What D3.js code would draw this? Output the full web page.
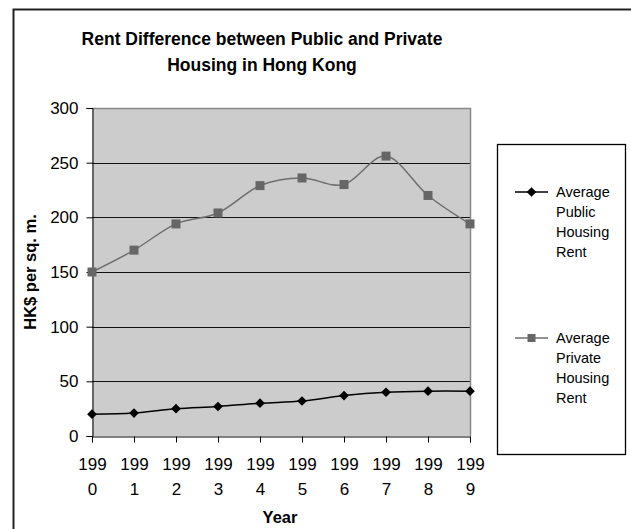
<!DOCTYPE html>
<html><head><meta charset="utf-8">
<script src="https://cdn.jsdelivr.net/npm/d3@7"></script>
<style>body{margin:0;background:#fff}svg{display:block}</style>
</head><body>
<svg id="c" width="631" height="529"></svg>
<script>
const years = ["1990","1991","1992","1993","1994","1995","1996","1997","1998","1999"];
const publicRent = [20, 21, 25, 27, 30, 32, 37, 40, 41, 41];
const privateRent = [150, 170, 194, 204, 229, 236, 230, 256, 220, 194];
const yTicks = [0, 50, 100, 150, 200, 250, 300];
const seriesNames = ["Average Public Housing Rent", "Average Private Housing Rent"];

const svg = d3.select("#c");
const font = "Arial, 'Liberation Sans', sans-serif";

// outer chart border (only top & left visible)
svg.append("path").attr("d","M13.5,529 L13.5,9.5 L631,9.5").attr("fill","none").attr("stroke","#222").attr("stroke-width",2);

const L=92, R=470, T=108, B=436;
const x = d3.scalePoint().domain(years).range([L,R]);
const y = d3.scaleLinear().domain([0,300]).range([B,T]);

// plot area
svg.append("rect").attr("x",L).attr("y",T).attr("width",R-L).attr("height",B-T).attr("fill","#cccccc");
// gridlines
svg.append("g").selectAll("line").data(yTicks.filter(d=>d>0&&d<300)).join("line")
  .attr("x1",L).attr("x2",R).attr("y1",d=>Math.round(y(d))+0.5).attr("y2",d=>Math.round(y(d))+0.5)
  .attr("stroke","#111").attr("stroke-width",1);
// plot border top/right gray
svg.append("path").attr("d",`M${L},${T+0.5} L${R+0.5},${T+0.5} L${R+0.5},${B}`).attr("fill","none").attr("stroke","#888").attr("stroke-width",1.5);

// axes
const yAxis = d3.axisLeft(y).tickValues(yTicks).tickSize(6).tickPadding(8);
const gy = svg.append("g").attr("transform",`translate(${L+0.5},0)`).call(yAxis);
gy.select(".domain").attr("stroke","#000");
gy.selectAll(".tick line").attr("stroke","#000");
gy.selectAll("text").attr("font-family",font).attr("font-size",17).attr("fill","#000");

const xAxis = d3.axisBottom(x).tickSize(6).tickFormat("");
const gx = svg.append("g").attr("transform",`translate(0,${B+0.5})`).call(xAxis);
gx.select(".domain").attr("stroke","#000");
gx.selectAll(".tick line").attr("stroke","#000");
const tl = gx.selectAll(".tick").append("text").attr("font-family",font).attr("font-size",17).attr("fill","#000").attr("text-anchor","middle");
tl.append("tspan").attr("x",0).attr("y",33).text(d=>d.slice(0,3));
tl.append("tspan").attr("x",0).attr("y",58).text(d=>d.slice(3));

// title
const title = svg.append("text").attr("x",262).attr("font-family",font).attr("font-weight","bold").attr("font-size",17.5).attr("text-anchor","middle");
title.append("tspan").attr("x",262).attr("y",45).text("Rent Difference between Public and Private");
title.append("tspan").attr("x",262).attr("y",71).text("Housing in Hong Kong");

// axis titles
svg.append("text").attr("transform",`translate(36,${(T+B)/2}) rotate(-90)`).attr("text-anchor","middle")
  .attr("font-family",font).attr("font-weight","bold").attr("font-size",16.5).text("HK$ per sq. m.");
svg.append("text").attr("x",280).attr("y",523).attr("text-anchor","middle")
  .attr("font-family",font).attr("font-weight","bold").attr("font-size",16.5).text("Year");

// lines
const line = d3.line().x((d,i)=>x(years[i])).y(d=>y(d)).curve(d3.curveCardinal.tension(0));
svg.append("path").datum(privateRent).attr("d",line).attr("fill","none").attr("stroke","#6e6e6e").attr("stroke-width",1.5);
svg.append("path").datum(publicRent).attr("d",line).attr("fill","none").attr("stroke","#000").attr("stroke-width",1.5);

const diamond = d3.symbol().type(d3.symbolDiamond2).size(60);
svg.append("g").selectAll("rect").data(privateRent).join("rect")
  .attr("x",(d,i)=>x(years[i])-4.5).attr("y",d=>y(d)-4.5).attr("width",9).attr("height",9).attr("fill","#666");
svg.append("g").selectAll("path").data(publicRent).join("path")
  .attr("transform",(d,i)=>`translate(${x(years[i])},${y(d)})`).attr("d",diamond).attr("fill","#000");

// legend
svg.append("rect").attr("x",497.5).attr("y",144.5).attr("width",128).attr("height",310).attr("fill","#fff").attr("stroke","#000").attr("stroke-width",1.3);
const legY = [192, 338];
const legColors = ["#000","#6e6e6e"];
seriesNames.forEach((name,k)=>{
  const g = svg.append("g");
  g.append("line").attr("x1",515).attr("x2",548).attr("y1",legY[k]).attr("y2",legY[k]).attr("stroke",legColors[k]).attr("stroke-width",1.5);
  if(k===0) g.append("path").attr("transform",`translate(531.5,${legY[k]})`).attr("d",diamond).attr("fill","#000");
  else g.append("rect").attr("x",527.5).attr("y",legY[k]-4).attr("width",8).attr("height",8).attr("fill","#666");
  const t = g.append("text").attr("font-family",font).attr("font-size",14.5).attr("fill","#000");
  name.split(" ").forEach((w,j)=>t.append("tspan").attr("x",556).attr("y",legY[k]+5+j*20).text(w));
});
</script>
</body></html>
